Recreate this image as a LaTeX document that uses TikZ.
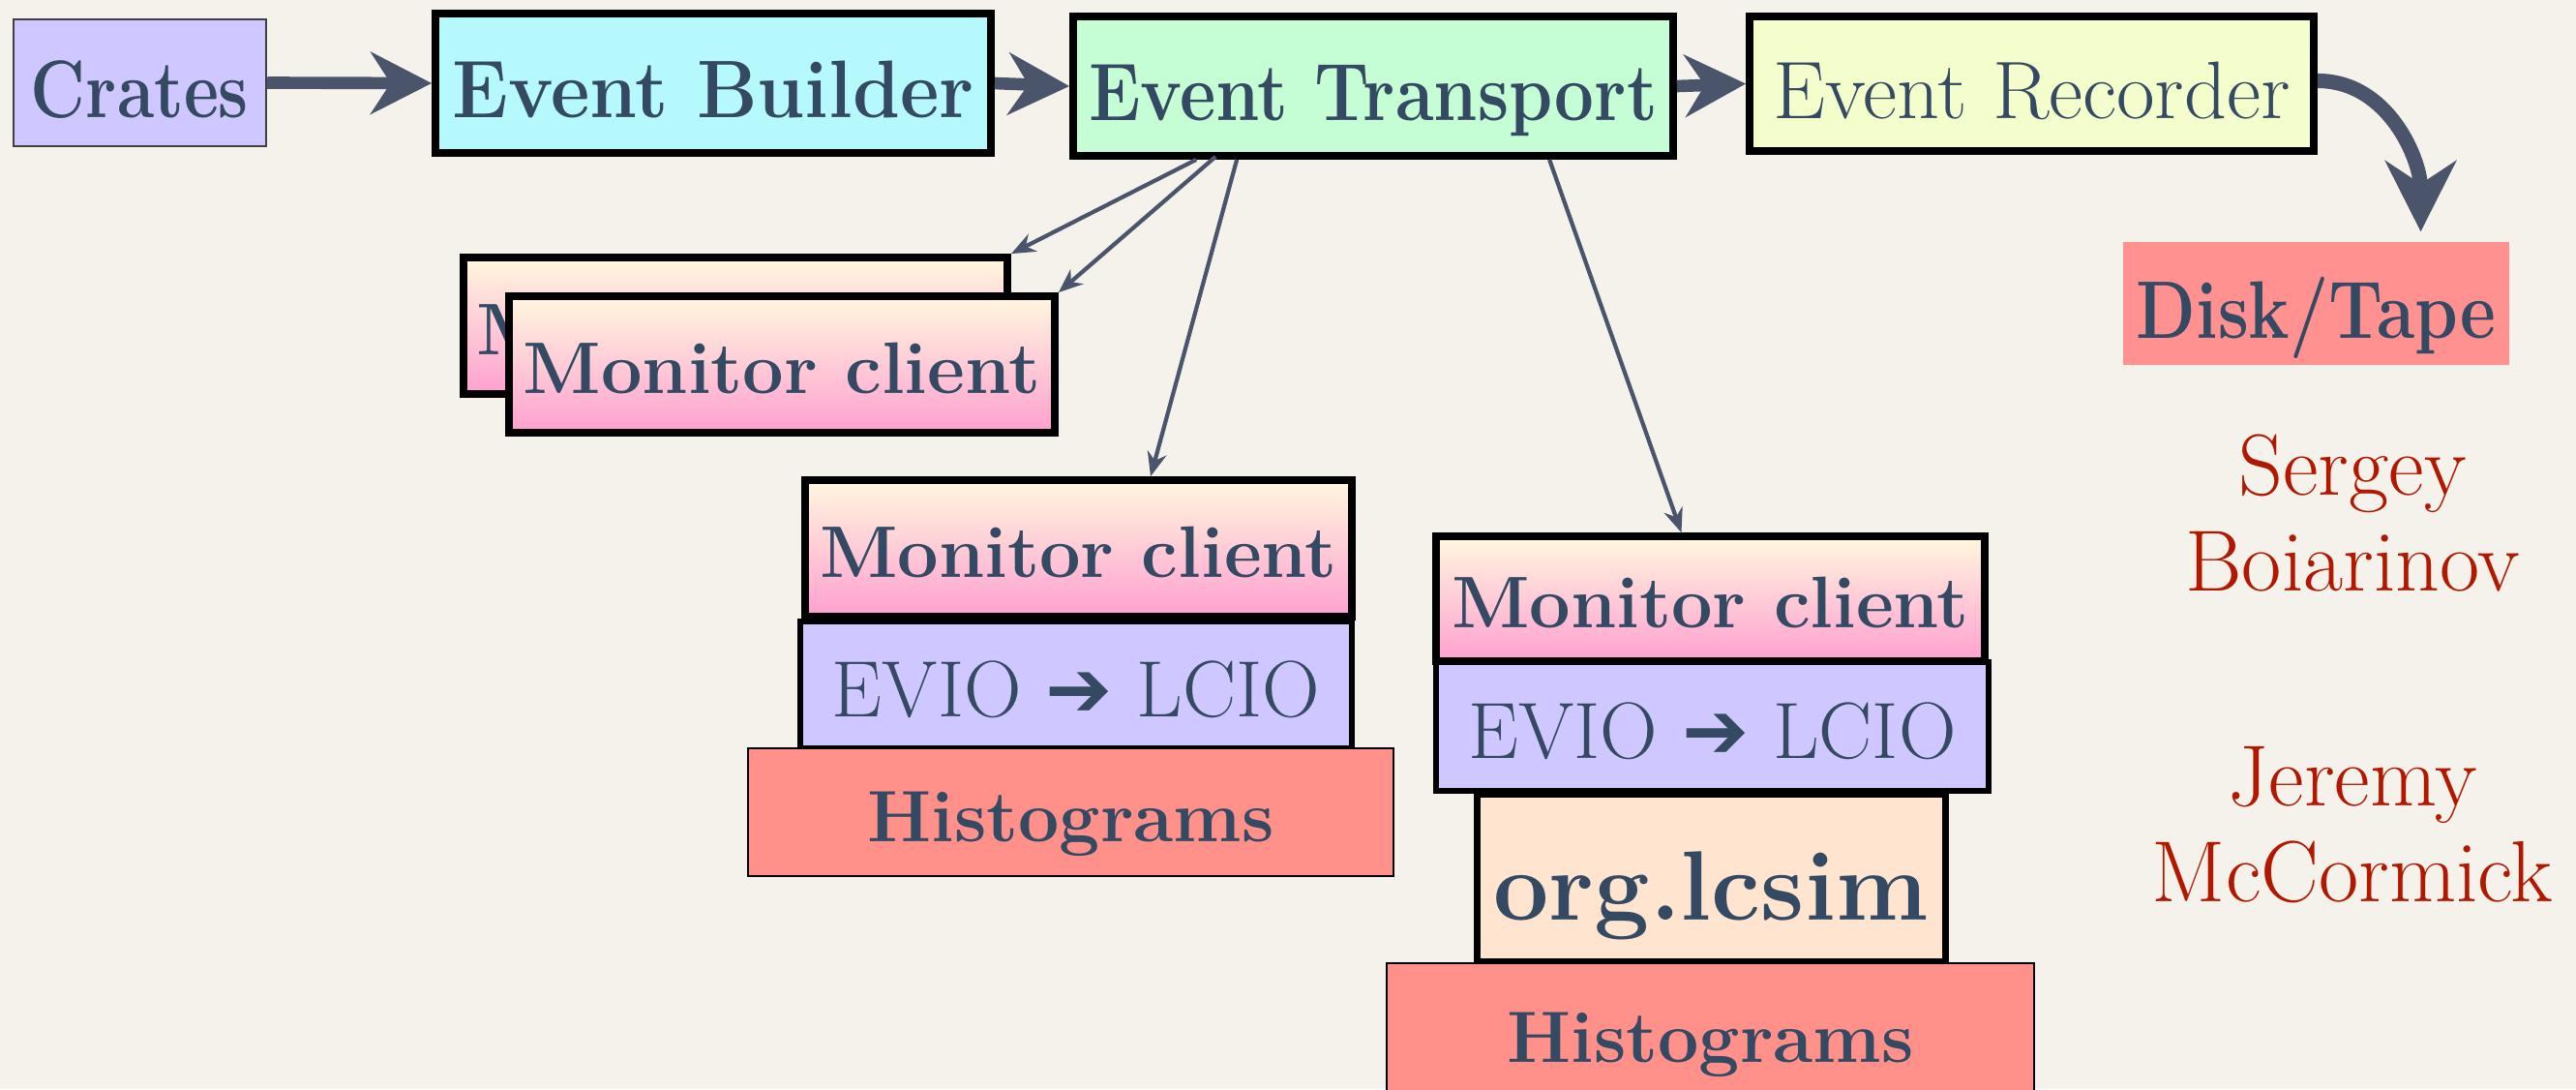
\documentclass[tikz,border=0pt]{standalone}
\usepackage{fontspec}
\usepackage{xcolor}
\usepackage{tikz,graphicx}
\usetikzlibrary{arrows.meta,shadings}
\newfontfamily\symbfont{DejaVu Sans}
\newcommand{\squeeze}[2]{\scalebox{#1}[1]{#2}}

\definecolor{paper}{RGB}{245,242,235}
\definecolor{ink}{RGB}{52,73,98}
\definecolor{arrowgrey}{RGB}{74,84,106}
\definecolor{namered}{RGB}{178,24,0}
\definecolor{lavender}{RGB}{207,199,255}
\definecolor{cyanbox}{RGB}{181,249,253}
\definecolor{mintbox}{RGB}{197,253,212}
\definecolor{lemonbox}{RGB}{244,253,204}
\definecolor{salmon}{RGB}{255,145,138}
\definecolor{diskred}{RGB}{255,145,145}
\definecolor{peach}{RGB}{255,228,208}
\definecolor{mctop}{RGB}{255,247,222}
\definecolor{mcmid}{RGB}{255,208,210}
\definecolor{mcbot}{RGB}{255,160,208}

\tikzset{
  topbox/.style={text=ink, inner sep=0pt, font=\fontsize{24}{28}\selectfont,
    text height=0.78cm, text depth=0.07cm},
  mcbox/.style={draw=black, line width=2.2pt, top color=mctop, middle color=mcmid, bottom color=mcbot,
    text=ink, inner sep=0pt, font=\bfseries\fontsize{21.5}{25}\selectfont,
    text height=0.7cm, text depth=0.1cm, minimum width=5.62cm, minimum height=1.41cm},
  eviobox/.style={draw=black, line width=1.6pt, fill=lavender, text=ink, inner sep=0pt,
    font=\fontsize{23.5}{27}\selectfont, text height=0.75cm, text depth=0.1cm,
    minimum width=5.7cm, minimum height=1.31cm},
  histbox/.style={draw=black, line width=0.8pt, fill=salmon, text=ink, inner sep=0pt,
    font=\bfseries\fontsize{21.4}{25}\selectfont, text height=0.7cm, text depth=0.1cm,
    minimum width=6.67cm, minimum height=1.32cm},
  fatarrow/.style={arrowgrey, line width=3.6pt, -{Stealth[length=0.63cm,width=0.64cm]}},
  thinarrow/.style={arrowgrey, line width=1.2pt, -{Stealth[length=0.25cm,width=0.2cm]}},
  names/.style={namered, align=center, font=\fontsize{25.5}{28}\selectfont}
}

\begin{document}
\begin{tikzpicture}
\useasboundingbox [fill=paper] (0cm,0cm) rectangle (26.62cm,-11.25cm);

\node [topbox, draw=darkgray, line width=0.7pt, fill=lavender, minimum width=2.61cm, minimum height=1.31cm] (crates) at (1.445cm,-0.855cm) {\squeeze{0.83}{\bfseries Crates}};
\node [topbox, draw=black, line width=2.2pt, fill=cyanbox, minimum width=5.74cm, minimum height=1.44cm] (builder) at (7.37cm,-0.86cm) {\squeeze{0.93}{\bfseries Event Builder}};
\node [topbox, draw=black, line width=2.2pt, fill=mintbox, minimum width=6.2cm, minimum height=1.44cm] (transport) at (14.19cm,-0.89cm) {\squeeze{0.86}{\bfseries Event Transport}};
\node [topbox, draw=black, line width=2.2pt, fill=lemonbox, minimum width=5.83cm, minimum height=1.39cm] (recorder) at (20.995cm,-0.865cm) {\squeeze{1.02}{Event Recorder}};
\node [topbox, fill=diskred, minimum width=3.99cm, minimum height=1.27cm] (disk) at (23.935cm,-3.135cm) {\squeeze{0.85}{\bfseries Disk/Tape}};

\draw [fatarrow] (crates.east) -- (builder.west);
\draw [fatarrow] (builder.east) -- (transport.west);
\draw [fatarrow] (transport.east) -- (recorder.west);
\draw [fatarrow, line width=4.3pt, -{Stealth[length=0.73cm,width=0.73cm]}] ([yshift=0.03cm]recorder.east) to[out=0,in=90] ([xshift=1.08cm,yshift=0.1cm]disk.north);

\node [mcbox] (mcback) at (7.6cm,-3.365cm) {Monitor client};
\node [mcbox, minimum width=5.64cm] (mcfront) at (8.08cm,-3.765cm) {Monitor client};

\node [mcbox, minimum width=5.65cm] (mcA) at (11.145cm,-5.665cm) {Monitor client};
\node [eviobox] (evioA) at (11.12cm,-7.075cm) {EVIO {\symbfont ➔} LCIO};
\node [histbox] (histA) at (11.065cm,-8.39cm) {Histograms};

\node [mcbox, minimum width=5.67cm, minimum height=1.29cm] (mcB) at (17.675cm,-6.185cm) {Monitor client};
\node [eviobox, minimum width=5.71cm, minimum height=1.33cm] (evioB) at (17.695cm,-7.505cm) {EVIO {\symbfont ➔} LCIO};
\node [draw=black, line width=2pt, fill=peach, text=ink, inner sep=0pt, font=\bfseries\fontsize{29}{33}\selectfont, text height=0.99cm, text depth=0.11cm, minimum width=4.84cm, minimum height=1.73cm] (lcsim) at (17.68cm,-9.065cm) {org.lcsim};
\node [histbox, minimum width=6.69cm, minimum height=1.45cm] (histB) at (17.675cm,-10.675cm) {Histograms};

\draw [thinarrow] ([xshift=1.31cm]transport.south west) -- (mcback.north east);
\draw [thinarrow] ([xshift=1.51cm,yshift=0.03cm]transport.south west) -- (mcfront.north east);
\draw [thinarrow] ([xshift=1.73cm]transport.south west) -- ([xshift=0.745cm]mcA.north);
\draw [thinarrow] ([xshift=4.96cm]transport.south west) -- ([xshift=-0.3cm]mcB.north);

\node [names] (sergey) at (24.31cm,-5.3cm) {Sergey\\Boiarinov};
\node [names] (jeremy) at (24.31cm,-8.52cm) {Jeremy\\McCormick};

\end{tikzpicture}
\end{document}
